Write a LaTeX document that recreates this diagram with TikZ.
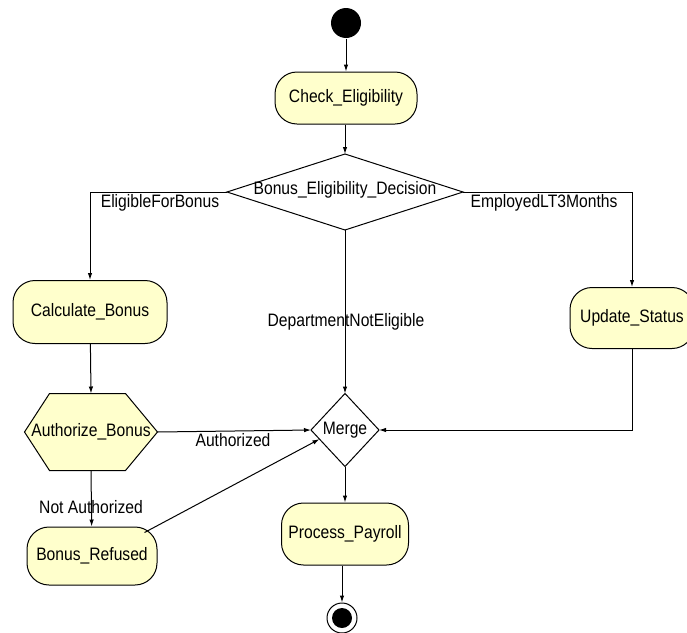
\documentclass[tikz,border=0pt]{standalone}
\usepackage{fontspec}
\setmainfont{Liberation Sans}[FakeStretch=0.87]
\usetikzlibrary{arrows.meta,calc}
\definecolor{actfill}{RGB}{255,255,204}

\begin{document}
\begin{tikzpicture}[x=1pt,y=-1pt,line width=1pt,
  font=\fontsize{18}{21}\selectfont,
  >={Latex[length=7pt,width=4.5pt]},
  activity/.style={draw,fill=actfill,rounded corners=22pt,inner sep=0pt},
  frame/.style={inner sep=0pt},
  lbl/.style={inner sep=0pt}]
\useasboundingbox (0,0) rectangle (687,632);

% start and end states
\node (start) [circle,fill=black,minimum size=30pt,inner sep=0pt] at (346,23) {};
\node (final) [circle,draw,minimum size=30pt,inner sep=0pt] at (342,618) {};
\fill (final.center) circle (10pt);

% activities
\node (check) [activity,minimum width=142pt,minimum height=52pt] at (346,98) {Check\_Eligibility};
\node (calc)  [activity,minimum width=154pt,minimum height=63pt] at (90,312) {Calculate\_Bonus};
\node (upd)   [activity,minimum width=124pt,minimum height=61pt] at (632,318) {Update\_Status};
\node (ref)   [activity,minimum width=130pt,minimum height=58pt] at (92,556) {Bonus\_Refused};
\node (proc)  [activity,minimum width=127pt,minimum height=62pt] at (345,534) {Process\_Payroll};

% decision diamond
\node (dec) [frame,minimum width=235pt,minimum height=75pt] at (345,192) {};
\draw (dec.north) -- (dec.east) -- (dec.south) -- (dec.west) -- cycle;
\node [lbl] at ($(dec.center)+(0,-2)$) {Bonus\_Eligibility\_Decision};

% merge diamond
\node (merge) [frame,minimum width=67pt,minimum height=72pt] at (345,430) {};
\draw (merge.north) -- (merge.east) -- (merge.south) -- (merge.west) -- cycle;
\node [lbl] at (merge.center) {Merge};

% authorization hexagon
\node (auth) [frame,minimum width=132pt,minimum height=76pt] at (91,432) {};
\draw[fill=actfill] (auth.west) -- ($(auth.north west)+(25,0)$) -- ($(auth.north east)+(-32,0)$)
  -- (auth.east) -- ($(auth.south east)+(-32,0)$) -- ($(auth.south west)+(25,0)$) -- cycle;
\node [lbl] at (auth.center) {Authorize\_Bonus};

% transitions
\draw[->] (start) -- (check.north -| start);
\draw[->] (check.south -| dec.north) -- (dec.north);
\draw[->] (dec.west) -| (calc.north);
\draw[->] (dec.east) -| (upd.north);
\draw[->] (dec.south) -- (merge.north);
\draw[->] (calc) -- (auth.north);
\draw[->] (auth.east) -- (merge.west);
\draw[->] (auth.south) -- (ref);
\draw[->] ($(ref.north east)+(-13,6)$) -- ($(merge.west)!0.25!(merge.south)$);
\draw[->] (upd.south) |- (merge.east);
\draw[->] (merge.south) -- (proc);
\draw[->] (proc.south -| final) -- (final);

% guard labels
\node [lbl] at (160,203) {EligibleForBonus};
\node [lbl] at (544,203) {EmployedLT3Months};
\node [lbl] at (346,322) {DepartmentNotEligible};
\node [lbl] at (233,440) {Authorized};
\node [lbl] at (91,507) {Not Authorized};
\end{tikzpicture}
\end{document}
